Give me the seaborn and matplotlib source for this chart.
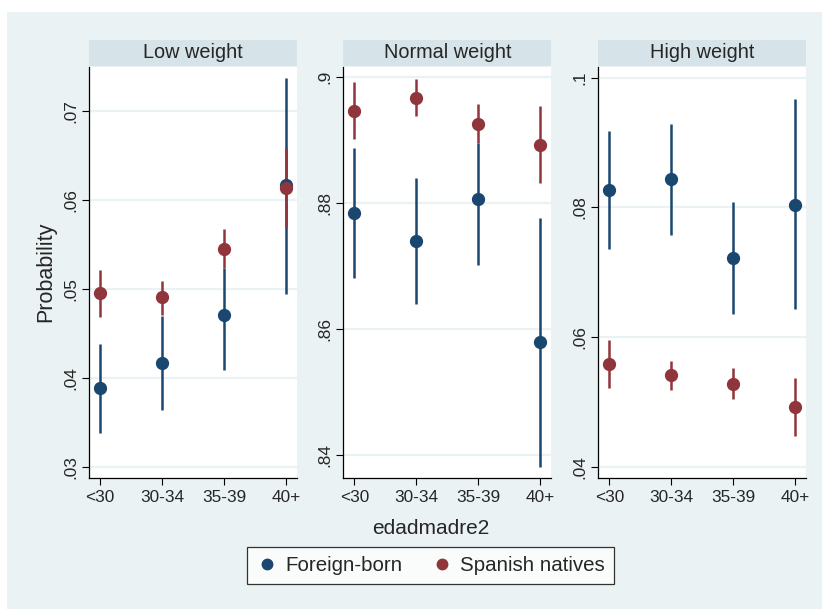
import numpy as np
import pandas as pd
import matplotlib
matplotlib.use("Agg")
import matplotlib.pyplot as plt
import seaborn as sns
from matplotlib.patches import Rectangle
from matplotlib.lines import Line2D

# age groups and panels
ages = ["<30", "30-34", "35-39", "40+"]
panels = ["Low weight", "Normal weight", "High weight"]
groups = ["Foreign-born", "Spanish natives"]

# point estimates and CIs
low_foreign = [0.0389, 0.0417, 0.0471, 0.0617]
low_foreign_lo = [0.0339, 0.0364, 0.0409, 0.0495]
low_foreign_hi = [0.0438, 0.0470, 0.0524, 0.0737]
low_spanish = [0.0496, 0.0491, 0.0545, 0.0614]
low_spanish_lo = [0.0469, 0.0471, 0.0524, 0.0570]
low_spanish_hi = [0.0522, 0.0509, 0.0567, 0.0658]

normal_foreign = [0.8784, 0.8739, 0.8806, 0.8579]
normal_foreign_lo = [0.8681, 0.8640, 0.8701, 0.8381]
normal_foreign_hi = [0.8887, 0.8839, 0.8896, 0.8776]
normal_spanish = [0.8946, 0.8967, 0.8926, 0.8893]
normal_spanish_lo = [0.8901, 0.8938, 0.8896, 0.8832]
normal_spanish_hi = [0.8992, 0.8997, 0.8958, 0.8955]

high_foreign = [0.0827, 0.0843, 0.0722, 0.0804]
high_foreign_lo = [0.0736, 0.0758, 0.0636, 0.0643]
high_foreign_hi = [0.0918, 0.0928, 0.0809, 0.0967]
high_spanish = [0.0558, 0.0542, 0.0528, 0.0492]
high_spanish_lo = [0.0521, 0.0519, 0.0505, 0.0447]
high_spanish_hi = [0.0595, 0.0564, 0.0552, 0.0537]

yticks = {
    "Low weight": [0.03, 0.04, 0.05, 0.06, 0.07],
    "Normal weight": [0.84, 0.86, 0.88, 0.90],
    "High weight": [0.04, 0.06, 0.08, 0.10],
}
ylims = {
    "Low weight": (0.0288, 0.0750),
    "Normal weight": (0.8363, 0.9017),
    "High weight": (0.0383, 0.1017),
}

rows = []
data_sets = {
    "Low weight": [(low_foreign, low_foreign_lo, low_foreign_hi),
                   (low_spanish, low_spanish_lo, low_spanish_hi)],
    "Normal weight": [(normal_foreign, normal_foreign_lo, normal_foreign_hi),
                      (normal_spanish, normal_spanish_lo, normal_spanish_hi)],
    "High weight": [(high_foreign, high_foreign_lo, high_foreign_hi),
                    (high_spanish, high_spanish_lo, high_spanish_hi)],
}
for p in panels:
    for g, (est, lo, hi) in zip(groups, data_sets[p]):
        for a, e, l, h in zip(ages, est, lo, hi):
            rows.append({"panel": p, "group": g, "age": a, "prob": e, "lo": l, "hi": h})
df = pd.DataFrame(rows)

sns.set_style("white")
plt.rcParams["font.family"] = ["Liberation Sans", "DejaVu Sans"]

navy = "#1a476f"
maroon = "#90353b"
palette = {"Foreign-born": navy, "Spanish natives": maroon}
bg = "#eaf2f3"
strip = "#d6e3e9"

fig = plt.figure(figsize=(8.22, 6.09), dpi=100)
fig.patches.append(Rectangle((7 / 822, 0), 1, 1 - 12 / 609, transform=fig.transFigure,
                             facecolor=bg, edgecolor="none", zorder=-10))

lefts = [89 / 822, 343.3 / 822, 598.3 / 822]
width = 208 / 822
bottom = 1 - 478 / 609
height = (478 - 66.5) / 609
strip_h = 26 / 609

for i, p in enumerate(panels):
    ax = fig.add_axes([lefts[i], bottom, width, height])
    sub = df[df["panel"] == p]
    for y in yticks[p]:
        ax.axhline(y, color=bg, lw=1.6, zorder=0)
    for g in groups:
        d = sub[sub["group"] == g]
        ax.vlines(np.arange(len(ages)), d["lo"], d["hi"], color=palette[g], lw=1.8, zorder=2)
    sns.pointplot(data=sub, x="age", y="prob", hue="group", order=ages, hue_order=groups,
                  palette=palette, linestyle="none", markers="o", markersize=7.5,
                  errorbar=None, dodge=False, ax=ax, legend=False, zorder=3)
    ax.set_xlim(-0.18, 3.18)
    ax.set_ylim(*ylims[p])
    ax.set_yticks(yticks[p])
    ax.set_yticklabels([("%g" % t).lstrip("0") for t in yticks[p]], rotation=90, va="center")
    ax.set_xlabel("")
    ax.set_ylabel("Probability" if i == 0 else "", fontsize=15.5, labelpad=5)
    ax.tick_params(axis="both", labelsize=12.4, length=5, width=0.8, direction="out",
                   color="black", bottom=True, left=True)
    ax.tick_params(axis="y", pad=3)
    for s in ["top", "right"]:
        ax.spines[s].set_visible(False)
    for s in ["left", "bottom"]:
        ax.spines[s].set_color("black")
        ax.spines[s].set_linewidth(0.9)
    ax.set_facecolor("white")
    # strip title
    fig.patches.append(Rectangle((lefts[i], bottom + height + 0.5 / 609), width, strip_h,
                                 transform=fig.transFigure, facecolor=strip,
                                 edgecolor="none", zorder=-5))
    fig.text(lefts[i] + width / 2, bottom + height + 0.5 / 609 + strip_h / 2, p,
             ha="center", va="center", fontsize=14.3)

fig.text(0.524, 1 - 529 / 609, "edadmadre2", ha="center", va="center", fontsize=15)

handles = [Line2D([], [], marker="o", color=palette[g], linestyle="none", markersize=7.5)
           for g in groups]
leg = fig.legend(handles, groups, loc="center", bbox_to_anchor=(0.524, 1 - 565.5 / 609),
                 ncol=2, fontsize=14.8, frameon=True, fancybox=False, edgecolor="black",
                 handletextpad=0.4, columnspacing=1.4, borderpad=0.45, handlelength=1.0)
leg.get_frame().set_linewidth(0.9)

fig.savefig("out.png", dpi=100)
